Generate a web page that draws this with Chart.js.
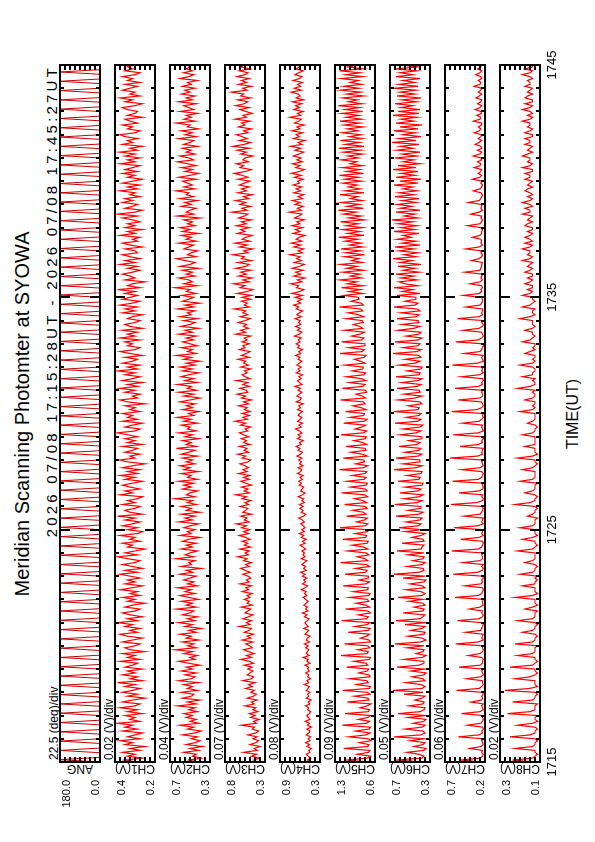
<!DOCTYPE html>
<html>
<head>
<meta charset="utf-8">
<script src="https://cdn.jsdelivr.net/npm/chart.js@4.4.1/dist/chart.umd.min.js"></script>
<style>
html, body { margin: 0; padding: 0; background: #fff; }
body { width: 595px; height: 842px; overflow: hidden; position: relative; font-family: "Liberation Sans", Arial, sans-serif; }
#sheet { position: absolute; left: 0; top: 0; width: 842px; height: 595px; transform-origin: 0 0; transform: translate(0px, 842px) rotate(-90deg); }
#sheet .txt { position: absolute; white-space: nowrap; line-height: 1; color: #000; }
#sheet canvas { position: absolute; left: 0; }
</style>
</head>
<body>
<div id="sheet">
  <div class="txt" style="left:428px;top:12px;font-size:20px;transform:translateX(-50%)">Meridian Scanning Photomter at SYOWA</div>
  <div class="txt" style="right:65px;top:44px;font-size:15px;letter-spacing:3.2px">2026 07/08 17:15:28UT - 2026 07/08 17:45:27UT</div>
  <div class="txt" style="left:428px;top:565px;font-size:16px;transform:translateX(-50%)">TIME(UT)</div>
</div>
<script>
// panel names, scales (8 divisions each)
const channelNames = ['ANG', 'CH1(V)', 'CH2(V)', 'CH3(V)', 'CH4(V)', 'CH5(V)', 'CH6(V)', 'CH7(V)', 'CH8(V)'];
const divLabels = ['22.5 (deg)/div', '0.02 (V)/div', '0.04 (V)/div', '0.07 (V)/div', '0.08 (V)/div',
                   '0.09 (V)/div', '0.05 (V)/div', '0.06 (V)/div', '0.02 (V)/div'];
const axisMin = [0, 0.22, 0.34, 0.28, 0.28, 0.58, 0.30, 0.22, 0.14];
const axisDiv = [22.5, 0.02, 0.04, 0.07, 0.08, 0.09, 0.05, 0.06, 0.02];
const hiLabels = ['180.0', '0.4', '0.7', '0.8', '0.9', '1.3', '0.7', '0.7', '0.3'];
const loLabels = ['0.0', '0.2', '0.3', '0.3', '0.3', '0.6', '0.3', '0.2', '0.1'];
const lineColors = ['#cc0000', '#ff0000', '#ff0000', '#ff0000', '#ff0000', '#ff0000', '#ff0000', '#ff0000', '#ff0000'];

// time axis, minutes after 17:15
const timeTicks = [0, 10, 20, 30];
const timeLabels = ['1715', '1725', '1735', '1745'];

// scan angle (deg), sampled every 6 s
const angStep = 0.1;
const ang = [
  0,180,0,0,0,180,0,0,0,180,0,0,0,180,0,0,0,180,0,0,
  0,180,0,0,0,180,0,0,0,180,0,0,0,180,0,0,0,180,0,0,
  0,180,0,0,0,180,0,0,0,180,0,0,0,180,0,0,0,180,0,0,
  0,180,0,0,0,180,0,0,0,180,0,0,0,180,0,0,0,180,0,0,
  0,180,0,0,0,180,0,0,0,180,0,0,0,180,0,0,0,180,0,0,
  0,180,0,0,0,180,0,0,0,180,0,0,0,180,0,0,0,180,0,0,
  0,180,0,0,0,180,0,0,0,180,0,0,0,180,0,0,0,180,0,0,
  0,180,0,0,0,180,0,0,0,180,0,0,0,180,0,0,0,180,0,0,
  0,180,0,0,0,180,0,0,0,180,0,0,0,180,0,0,0,180,0,0,
  0,180,0,0,0,180,0,0,0,180,0,0,0,180,0,0,0,180,0,0,
  0,180,0,0,0,180,0,0,0,180,0,0,0,180,0,0,0,180,0,0,
  0,180,0,0,0,180,0,0,0,180,0,0,0,180,0,0,0,180,0,0,
  0,180,0,0,0,180,0,0,0,180,0,0,0,180,0,0,0,180,0,0,
  0,180,0,0,0,180,0,0,0,180,0,0,0,180,0,0,0,180,0,0,
  0,180,0,0,0,180,0,0,0,180,0,0,0,180,0,0,0,180,0,0,
  0];

// channel samples (V), every 5 s, one row per minute
const chStep = 1 / 12;
const ch1 = [
  0.29,0.34,0.27,0.33,0.30,0.35,0.28,0.32,0.26,0.34,0.31,0.36,
  0.28,0.33,0.30,0.27,0.35,0.29,0.34,0.31,0.37,0.28,0.32,0.30,
  0.34,0.27,0.33,0.29,0.36,0.30,0.28,0.35,0.31,0.26,0.33,0.29,
  0.35,0.31,0.28,0.34,0.30,0.37,0.27,0.32,0.29,0.35,0.30,0.33,
  0.27,0.34,0.31,0.29,0.36,0.28,0.33,0.30,0.35,0.26,0.32,0.34,
  0.30,0.28,0.35,0.31,0.27,0.33,0.36,0.29,0.32,0.28,0.34,0.31,
  0.37,0.29,0.33,0.27,0.32,0.35,0.30,0.28,0.34,0.31,0.26,0.33,
  0.30,0.35,0.28,0.32,0.29,0.36,0.31,0.27,0.34,0.30,0.33,0.28,
  0.32,0.36,0.29,0.34,0.27,0.31,0.35,0.30,0.28,0.33,0.37,0.29,
  0.34,0.30,0.26,0.33,0.31,0.35,0.28,0.32,0.30,0.36,0.29,0.27,
  0.33,0.29,0.35,0.31,0.28,0.34,0.30,0.37,0.27,0.32,0.34,0.30,
  0.28,0.35,0.30,0.33,0.29,0.27,0.36,0.31,0.34,0.28,0.32,0.35,
  0.31,0.27,0.34,0.30,0.36,0.29,0.33,0.28,0.35,0.31,0.26,0.33,
  0.36,0.30,0.32,0.28,0.34,0.31,0.29,0.35,0.27,0.33,0.30,0.34,
  0.29,0.33,0.37,0.30,0.28,0.34,0.31,0.27,0.35,0.29,0.33,0.31,
  0.35,0.28,0.32,0.30,0.34,0.26,0.33,0.36,0.29,0.31,0.28,0.34,
  0.30,0.36,0.29,0.33,0.27,0.35,0.31,0.28,0.34,0.30,0.37,0.29,
  0.33,0.28,0.35,0.31,0.29,0.34,0.27,0.32,0.36,0.30,0.28,0.33,
  0.31,0.34,0.28,0.36,0.30,0.33,0.29,0.35,0.27,0.32,0.34,0.30,
  0.28,0.33,0.31,0.27,0.35,0.30,0.34,0.29,0.36,0.31,0.28,0.35,
  0.32,0.29,0.34,0.30,0.37,0.28,0.33,0.31,0.26,0.34,0.30,0.32,
  0.35,0.31,0.28,0.33,0.29,0.36,0.30,0.34,0.28,0.32,0.35,0.29,
  0.30,0.34,0.27,0.32,0.35,0.29,0.31,0.28,0.36,0.30,0.33,0.27,
  0.34,0.30,0.33,0.28,0.31,0.35,0.29,0.37,0.30,0.27,0.34,0.31,
  0.29,0.35,0.31,0.34,0.28,0.32,0.30,0.36,0.29,0.33,0.28,0.35,
  0.31,0.27,0.33,0.30,0.35,0.29,0.34,0.31,0.28,0.36,0.30,0.33,
  0.28,0.34,0.30,0.36,0.29,0.32,0.27,0.35,0.31,0.33,0.29,0.34,
  0.36,0.30,0.28,0.33,0.31,0.35,0.29,0.32,0.34,0.27,0.33,0.30,
  0.29,0.33,0.35,0.30,0.27,0.34,0.31,0.36,0.28,0.32,0.30,0.35,
  0.32,0.29,0.34,0.28,0.33,0.31,0.35,0.30,0.28,0.34,0.31,0.33,
  0.30];
const ch2 = [
  0.44,0.51,0.41,0.48,0.45,0.55,0.43,0.50,0.40,0.53,0.46,0.42,
  0.49,0.44,0.56,0.46,0.41,0.52,0.47,0.58,0.43,0.50,0.45,0.53,
  0.48,0.55,0.44,0.51,0.46,0.60,0.45,0.52,0.42,0.56,0.49,0.47,
  0.57,0.44,0.52,0.48,0.55,0.43,0.59,0.49,0.46,0.54,0.45,0.57,
  0.48,0.53,0.42,0.51,0.59,0.46,0.50,0.44,0.55,0.48,0.62,0.45,
  0.52,0.47,0.56,0.43,0.53,0.49,0.58,0.45,0.51,0.41,0.54,0.48,
  0.59,0.46,0.52,0.44,0.56,0.50,0.47,0.61,0.45,0.53,0.48,0.57,
  0.43,0.51,0.58,0.46,0.54,0.49,0.60,0.44,0.52,0.47,0.55,0.50,
  0.45,0.58,0.48,0.53,0.41,0.57,0.49,0.51,0.46,0.61,0.47,0.54,
  0.50,0.44,0.57,0.48,0.53,0.45,0.56,0.51,0.42,0.58,0.49,0.52,
  0.46,0.55,0.50,0.43,0.59,0.48,0.54,0.46,0.57,0.42,0.53,0.49,
  0.57,0.45,0.52,0.48,0.62,0.46,0.53,0.50,0.44,0.56,0.49,0.55,
  0.47,0.59,0.44,0.52,0.49,0.57,0.43,0.55,0.50,0.58,0.46,0.53,
  0.48,0.56,0.44,0.57,0.51,0.46,0.61,0.45,0.53,0.49,0.56,0.43,
  0.54,0.48,0.59,0.45,0.52,0.50,0.57,0.44,0.55,0.49,0.60,0.47,
  0.51,0.43,0.56,0.48,0.53,0.46,0.58,0.50,0.42,0.55,0.47,0.59,
  0.45,0.52,0.49,0.60,0.44,0.54,0.47,0.57,0.51,0.43,0.56,0.48,
  0.58,0.46,0.53,0.42,0.55,0.49,0.61,0.45,0.52,0.48,0.57,0.44,
  0.50,0.56,0.47,0.53,0.45,0.59,0.48,0.54,0.43,0.57,0.50,0.46,
  0.55,0.44,0.58,0.49,0.52,0.46,0.60,0.47,0.54,0.42,0.56,0.51,
  0.47,0.57,0.45,0.53,0.50,0.62,0.44,0.55,0.48,0.51,0.59,0.46,
  0.53,0.48,0.56,0.43,0.58,0.50,0.46,0.54,0.61,0.45,0.52,0.49,
  0.44,0.55,0.51,0.47,0.59,0.45,0.53,0.49,0.57,0.43,0.56,0.50,
  0.58,0.46,0.52,0.48,0.55,0.42,0.60,0.47,0.53,0.50,0.45,0.57,
  0.49,0.54,0.44,0.58,0.47,0.53,0.51,0.61,0.46,0.55,0.48,0.52,
  0.56,0.45,0.59,0.50,0.43,0.54,0.48,0.57,0.45,0.52,0.60,0.47,
  0.51,0.58,0.46,0.53,0.49,0.56,0.44,0.55,0.50,0.47,0.59,0.45,
  0.54,0.48,0.57,0.43,0.52,0.50,0.61,0.46,0.55,0.49,0.53,0.44,
  0.58,0.47,0.51,0.55,0.45,0.59,0.48,0.53,0.46,0.57,0.50,0.54,
  0.46,0.56,0.49,0.52,0.44,0.58,0.51,0.47,0.55,0.48,0.53,0.50,
  0.52];
const ch3 = [
  0.38,0.44,0.36,0.47,0.40,0.58,0.39,0.43,0.35,0.49,0.41,0.37,
  0.45,0.39,0.52,0.41,0.37,0.46,0.43,0.61,0.40,0.44,0.36,0.48,
  0.42,0.50,0.38,0.45,0.41,0.56,0.43,0.47,0.39,0.53,0.44,0.40,
  0.48,0.43,0.55,0.46,0.51,0.42,0.59,0.47,0.44,0.53,0.49,0.45,
  0.52,0.46,0.57,0.44,0.50,0.62,0.47,0.54,0.43,0.51,0.58,0.46,
  0.49,0.55,0.45,0.60,0.48,0.53,0.44,0.57,0.50,0.47,0.64,0.49,
  0.54,0.47,0.59,0.51,0.45,0.56,0.52,0.48,0.61,0.46,0.53,0.50,
  0.57,0.49,0.53,0.46,0.60,0.51,0.55,0.47,0.63,0.50,0.54,0.48,
  0.52,0.59,0.49,0.56,0.62,0.50,0.55,0.47,0.58,0.53,0.66,0.51,
  0.56,0.50,0.63,0.48,0.57,0.52,0.60,0.49,0.55,0.64,0.51,0.58,
  0.49,0.61,0.54,0.68,0.50,0.57,0.53,0.62,0.47,0.59,0.55,0.52,
  0.63,0.51,0.56,0.48,0.60,0.54,0.69,0.50,0.57,0.52,0.61,0.47,
  0.55,0.62,0.50,0.58,0.49,0.65,0.53,0.59,0.51,0.56,0.63,0.52,
  0.48,0.60,0.55,0.66,0.51,0.57,0.53,0.64,0.49,0.58,0.54,0.61,
  0.51,0.58,0.64,0.52,0.56,0.48,0.62,0.55,0.70,0.53,0.59,0.50,
  0.60,0.49,0.57,0.53,0.65,0.51,0.58,0.47,0.61,0.55,0.67,0.52,
  0.54,0.63,0.50,0.59,0.52,0.68,0.49,0.56,0.60,0.53,0.57,0.48,
  0.62,0.51,0.58,0.55,0.66,0.50,0.61,0.54,0.49,0.64,0.56,0.59,
  0.50,0.60,0.53,0.57,0.48,0.69,0.55,0.62,0.51,0.58,0.54,0.65,
  0.56,0.49,0.63,0.52,0.59,0.55,0.71,0.50,0.57,0.53,0.61,0.48,
  0.60,0.47,0.67,0.53,0.45,0.63,0.56,0.72,0.50,0.59,0.46,0.65,
  0.54,0.62,0.48,0.69,0.55,0.50,0.66,0.47,0.61,0.57,0.73,0.52,
  0.58,0.45,0.64,0.53,0.70,0.49,0.60,0.55,0.46,0.67,0.56,0.62,
  0.50,0.68,0.54,0.61,0.47,0.65,0.57,0.52,0.74,0.53,0.60,0.48,
  0.63,0.55,0.69,0.51,0.58,0.46,0.66,0.54,0.61,0.50,0.64,0.57,
  0.49,0.66,0.52,0.60,0.71,0.55,0.47,0.63,0.58,0.68,0.51,0.59,
  0.56,0.45,0.62,0.54,0.67,0.50,0.73,0.57,0.48,0.64,0.53,0.60,
  0.68,0.52,0.58,0.47,0.65,0.56,0.61,0.49,0.70,0.54,0.59,0.46,
  0.55,0.63,0.50,0.69,0.57,0.52,0.66,0.48,0.62,0.58,0.75,0.53,
  0.59,0.47,0.65,0.54,0.61,0.50,0.67,0.56,0.52,0.64,0.49,0.62,
  0.57];
const ch4 = [
  0.45,0.48,0.43,0.47,0.50,0.44,0.46,0.42,0.49,0.45,0.51,0.44,
  0.47,0.43,0.50,0.46,0.44,0.49,0.42,0.48,0.45,0.52,0.44,0.47,
  0.49,0.45,0.43,0.48,0.46,0.51,0.44,0.47,0.42,0.50,0.46,0.48,
  0.44,0.50,0.47,0.45,0.53,0.46,0.49,0.43,0.48,0.46,0.51,0.45,
  0.48,0.46,0.52,0.44,0.49,0.47,0.55,0.45,0.50,0.48,0.46,0.51,
  0.47,0.53,0.45,0.50,0.48,0.44,0.52,0.49,0.46,0.54,0.47,0.50,
  0.52,0.48,0.46,0.53,0.49,0.56,0.47,0.51,0.48,0.54,0.50,0.47,
  0.51,0.55,0.49,0.53,0.50,0.58,0.52,0.48,0.56,0.51,0.54,0.49,
  0.56,0.52,0.59,0.50,0.54,0.51,0.57,0.53,0.49,0.58,0.52,0.55,
  0.53,0.57,0.51,0.55,0.60,0.52,0.56,0.50,0.58,0.54,0.61,0.53,
  0.57,0.52,0.55,0.59,0.53,0.56,0.62,0.54,0.51,0.58,0.55,0.60,
  0.55,0.61,0.53,0.57,0.54,0.63,0.56,0.52,0.59,0.57,0.54,0.61,
  0.58,0.62,0.56,0.60,0.55,0.64,0.59,0.57,0.63,0.55,0.61,0.58,
  0.62,0.57,0.65,0.59,0.56,0.63,0.60,0.66,0.58,0.61,0.55,0.64,
  0.59,0.63,0.57,0.61,0.67,0.58,0.62,0.56,0.64,0.60,0.57,0.63,
  0.61,0.56,0.64,0.59,0.62,0.55,0.66,0.60,0.58,0.65,0.61,0.57,
  0.63,0.59,0.68,0.57,0.61,0.64,0.58,0.62,0.56,0.66,0.60,0.63,
  0.58,0.65,0.61,0.57,0.63,0.60,0.67,0.59,0.62,0.56,0.64,0.61,
  0.66,0.60,0.63,0.58,0.69,0.61,0.57,0.64,0.60,0.67,0.59,0.62,
  0.60,0.68,0.58,0.65,0.61,0.56,0.66,0.62,0.70,0.59,0.64,0.57,
  0.68,0.56,0.73,0.60,0.54,0.66,0.62,0.75,0.57,0.64,0.52,0.70,
  0.59,0.67,0.55,0.72,0.61,0.53,0.69,0.58,0.65,0.60,0.76,0.56,
  0.63,0.54,0.70,0.59,0.74,0.57,0.66,0.61,0.52,0.71,0.60,0.67,
  0.56,0.73,0.60,0.65,0.53,0.69,0.62,0.57,0.77,0.58,0.64,0.55,
  0.68,0.60,0.72,0.56,0.63,0.54,0.70,0.59,0.66,0.57,0.71,0.61,
  0.64,0.55,0.69,0.58,0.74,0.61,0.53,0.67,0.60,0.72,0.56,0.65,
  0.58,0.71,0.62,0.54,0.68,0.59,0.75,0.57,0.63,0.52,0.70,0.61,
  0.66,0.56,0.73,0.60,0.65,0.53,0.69,0.62,0.58,0.76,0.59,0.64,
  0.55,0.70,0.61,0.67,0.57,0.72,0.54,0.66,0.60,0.63,0.74,0.58,
  0.69,0.59,0.64,0.56,0.71,0.61,0.57,0.68,0.62,0.55,0.67,0.60,
  0.63];
const ch5 = [
  0.68,1.10,0.72,0.66,0.90,0.70,0.67,1.14,0.71,0.69,0.86,0.65,
  0.70,1.05,0.74,0.67,0.93,0.69,0.66,1.17,0.73,0.68,0.88,0.71,
  0.66,1.12,0.70,0.68,0.85,0.72,0.65,1.08,0.69,0.71,0.95,0.67,
  0.72,1.16,0.68,0.66,0.91,0.70,0.73,1.03,0.67,0.69,0.87,0.72,
  0.69,1.09,0.71,0.74,0.96,0.68,0.66,1.19,0.72,0.70,0.89,0.67,
  0.71,1.13,0.66,0.69,0.84,0.73,0.68,1.06,0.70,0.67,0.94,0.72,
  0.67,1.18,0.73,0.70,0.88,0.66,0.71,1.11,0.68,0.74,0.92,0.69,
  0.72,1.04,0.69,0.67,0.97,0.71,0.70,1.15,0.74,0.68,0.86,0.70,
  0.70,1.12,0.75,0.72,0.93,0.68,0.73,1.20,0.71,0.76,0.90,0.69,
  0.74,1.07,0.71,0.78,0.99,0.72,0.70,1.16,0.75,0.73,0.94,0.71,
  0.73,1.21,0.76,0.71,0.91,0.77,0.72,1.09,0.74,0.79,0.98,0.72,
  0.76,1.13,0.73,0.80,0.95,0.71,0.77,1.18,0.72,0.75,1.02,0.74,
  0.72,1.08,0.78,0.74,0.99,0.76,0.73,1.22,0.79,0.71,0.93,0.77,
  0.78,1.15,0.72,0.81,1.01,0.74,0.76,1.10,0.73,0.80,0.96,0.75,
  0.74,1.19,0.79,0.73,0.94,0.82,0.75,1.14,0.77,0.72,1.03,0.78,
  0.77,1.11,0.74,0.83,0.98,0.76,0.79,1.20,0.75,0.81,0.92,0.73,
  0.75,1.17,0.80,0.76,1.04,0.74,0.82,1.09,0.78,0.75,0.99,0.80,
  0.79,1.12,0.76,0.84,0.95,0.78,0.74,1.21,0.81,0.77,1.05,0.76,
  0.76,1.18,0.82,0.78,1.00,0.85,0.77,1.13,0.80,0.86,0.97,0.79,
  0.81,1.10,0.78,0.88,1.06,0.80,0.84,1.22,0.79,0.83,1.01,0.87,
  0.88,1.14,0.80,1.05,0.84,1.18,0.79,1.08,0.91,1.21,0.82,1.02,
  0.85,1.16,0.78,1.09,0.90,1.20,0.81,1.00,0.87,1.13,0.77,1.11,
  0.84,1.19,0.80,1.04,0.83,1.12,0.89,1.23,0.78,1.07,0.85,1.17,
  0.80,1.10,0.88,1.20,0.77,1.05,0.83,1.15,0.92,1.24,0.79,1.08,
  0.86,1.18,0.81,1.02,0.89,1.21,0.78,1.12,0.84,1.06,0.90,1.16,
  0.82,1.13,0.87,1.22,0.79,1.09,0.85,1.17,0.80,1.03,0.91,1.19,
  0.88,1.07,0.80,1.15,0.84,1.23,0.78,1.11,0.86,1.20,0.81,1.04,
  0.83,1.17,0.89,1.08,0.79,1.14,0.85,1.21,0.82,1.10,0.87,1.18,
  0.80,1.12,0.86,1.24,0.81,1.06,0.90,1.16,0.78,1.09,0.84,1.20,
  0.87,1.14,0.82,1.03,0.88,1.19,0.80,1.11,0.85,1.22,0.79,1.07,
  0.84];
const ch6 = [
  0.35,0.64,0.38,0.36,0.41,0.53,0.36,0.34,0.46,0.37,0.35,0.50,
  0.36,0.66,0.39,0.35,0.37,0.55,0.38,0.35,0.47,0.36,0.34,0.52,
  0.34,0.62,0.40,0.36,0.35,0.51,0.37,0.36,0.45,0.38,0.35,0.56,
  0.37,0.67,0.38,0.35,0.39,0.54,0.35,0.37,0.48,0.36,0.34,0.49,
  0.35,0.63,0.41,0.36,0.36,0.56,0.38,0.34,0.44,0.37,0.36,0.53,
  0.36,0.65,0.39,0.34,0.38,0.52,0.36,0.35,0.49,0.38,0.35,0.55,
  0.34,0.64,0.40,0.37,0.35,0.57,0.37,0.36,0.46,0.35,0.37,0.51,
  0.37,0.62,0.38,0.35,0.39,0.54,0.35,0.38,0.50,0.36,0.34,0.57,
  0.35,0.66,0.41,0.36,0.37,0.53,0.38,0.35,0.47,0.37,0.36,0.52,
  0.36,0.63,0.39,0.38,0.36,0.58,0.36,0.37,0.48,0.39,0.35,0.55,
  0.38,0.61,0.42,0.39,0.54,0.40,0.38,0.64,0.41,0.37,0.52,0.39,
  0.39,0.65,0.43,0.38,0.56,0.41,0.37,0.60,0.42,0.39,0.55,0.38,
  0.37,0.62,0.41,0.40,0.53,0.39,0.38,0.66,0.44,0.38,0.57,0.40,
  0.40,0.64,0.42,0.38,0.55,0.41,0.39,0.61,0.43,0.40,0.51,0.38,
  0.38,0.60,0.44,0.39,0.57,0.40,0.37,0.65,0.42,0.39,0.54,0.41,
  0.39,0.66,0.42,0.41,0.52,0.38,0.40,0.62,0.45,0.38,0.56,0.40,
  0.41,0.63,0.43,0.39,0.58,0.42,0.38,0.64,0.41,0.40,0.53,0.39,
  0.38,0.61,0.45,0.40,0.55,0.39,0.41,0.67,0.43,0.39,0.57,0.42,
  0.40,0.65,0.42,0.38,0.54,0.41,0.39,0.62,0.46,0.40,0.58,0.41,
  0.42,0.63,0.44,0.41,0.59,0.40,0.43,0.66,0.45,0.42,0.55,0.44,
  0.44,0.63,0.40,0.58,0.47,0.66,0.42,0.55,0.61,0.43,0.59,0.46,
  0.64,0.41,0.57,0.45,0.62,0.39,0.60,0.48,0.67,0.44,0.56,0.42,
  0.61,0.46,0.65,0.40,0.58,0.44,0.63,0.49,0.57,0.41,0.66,0.45,
  0.59,0.43,0.62,0.47,0.68,0.42,0.56,0.45,0.64,0.40,0.60,0.48,
  0.63,0.44,0.58,0.41,0.65,0.46,0.61,0.43,0.57,0.47,0.66,0.42,
  0.60,0.39,0.64,0.45,0.59,0.42,0.67,0.44,0.62,0.40,0.57,0.46,
  0.65,0.43,0.58,0.40,0.63,0.47,0.60,0.41,0.68,0.44,0.61,0.39,
  0.57,0.45,0.66,0.42,0.60,0.38,0.64,0.46,0.59,0.43,0.67,0.41,
  0.62,0.40,0.59,0.47,0.65,0.43,0.58,0.39,0.63,0.45,0.60,0.44,
  0.66,0.42,0.61,0.45,0.57,0.40,0.64,0.47,0.60,0.43,0.65,0.41,
  0.60];
const ch7 = [
  0.25,0.51,0.28,0.25,0.24,0.26,0.25,0.40,0.27,0.24,0.25,0.26,
  0.24,0.54,0.29,0.25,0.26,0.24,0.25,0.43,0.27,0.25,0.24,0.25,
  0.25,0.50,0.28,0.24,0.25,0.26,0.24,0.39,0.26,0.25,0.26,0.24,
  0.25,0.56,0.29,0.26,0.24,0.25,0.25,0.44,0.27,0.24,0.25,0.26,
  0.24,0.53,0.28,0.25,0.25,0.24,0.26,0.42,0.28,0.25,0.24,0.25,
  0.25,0.57,0.30,0.24,0.26,0.25,0.24,0.45,0.27,0.26,0.25,0.24,
  0.26,0.55,0.29,0.25,0.24,0.26,0.25,0.41,0.28,0.24,0.25,0.25,
  0.24,0.58,0.30,0.26,0.25,0.24,0.25,0.46,0.27,0.25,0.26,0.24,
  0.25,0.60,0.31,0.25,0.24,0.26,0.24,0.48,0.28,0.25,0.25,0.26,
  0.24,0.62,0.30,0.26,0.25,0.24,0.25,0.51,0.29,0.24,0.26,0.25,
  0.25,0.59,0.31,0.24,0.26,0.25,0.24,0.47,0.28,0.26,0.25,0.24,
  0.26,0.63,0.32,0.25,0.24,0.26,0.25,0.53,0.29,0.25,0.24,0.25,
  0.24,0.61,0.30,0.26,0.25,0.24,0.26,0.50,0.28,0.24,0.25,0.26,
  0.25,0.64,0.31,0.25,0.26,0.25,0.24,0.52,0.30,0.25,0.26,0.24,
  0.26,0.60,0.30,0.24,0.25,0.26,0.25,0.49,0.29,0.26,0.24,0.25,
  0.24,0.62,0.32,0.26,0.24,0.25,0.26,0.54,0.28,0.25,0.25,0.26,
  0.25,0.58,0.30,0.25,0.26,0.24,0.25,0.50,0.29,0.24,0.26,0.25,
  0.26,0.61,0.31,0.24,0.25,0.26,0.24,0.47,0.28,0.26,0.25,0.24,
  0.25,0.57,0.30,0.26,0.24,0.25,0.26,0.48,0.29,0.25,0.24,0.26,
  0.24,0.55,0.29,0.25,0.26,0.25,0.25,0.45,0.28,0.26,0.25,0.25,
  0.26,0.48,0.29,0.26,0.27,0.25,0.26,0.40,0.28,0.25,0.27,0.26,
  0.25,0.46,0.28,0.27,0.26,0.26,0.25,0.38,0.29,0.26,0.25,0.27,
  0.26,0.45,0.29,0.25,0.27,0.26,0.27,0.37,0.28,0.26,0.26,0.25,
  0.27,0.43,0.28,0.26,0.25,0.27,0.26,0.39,0.29,0.25,0.27,0.26,
  0.26,0.42,0.29,0.27,0.26,0.25,0.27,0.36,0.28,0.26,0.25,0.27,
  0.25,0.37,0.28,0.26,0.30,0.27,0.26,0.35,0.28,0.27,0.31,0.26,
  0.27,0.36,0.28,0.26,0.31,0.26,0.27,0.34,0.29,0.26,0.30,0.27,
  0.26,0.35,0.29,0.27,0.30,0.26,0.26,0.36,0.28,0.27,0.32,0.26,
  0.27,0.34,0.28,0.26,0.31,0.27,0.26,0.33,0.29,0.26,0.30,0.27,
  0.26,0.35,0.28,0.27,0.30,0.26,0.27,0.33,0.28,0.26,0.31,0.27,
  0.27];
const ch8 = [
  0.16,0.25,0.17,0.16,0.15,0.16,0.16,0.24,0.17,0.16,0.16,0.15,
  0.16,0.26,0.18,0.16,0.16,0.15,0.16,0.23,0.17,0.15,0.16,0.16,
  0.15,0.27,0.18,0.16,0.16,0.16,0.15,0.25,0.17,0.16,0.16,0.15,
  0.16,0.28,0.18,0.15,0.16,0.16,0.16,0.24,0.18,0.16,0.15,0.16,
  0.16,0.26,0.17,0.16,0.15,0.16,0.16,0.23,0.17,0.16,0.16,0.16,
  0.15,0.24,0.17,0.16,0.16,0.15,0.16,0.21,0.17,0.16,0.16,0.15,
  0.16,0.23,0.17,0.16,0.16,0.16,0.15,0.20,0.17,0.15,0.16,0.16,
  0.16,0.24,0.17,0.15,0.16,0.16,0.16,0.21,0.16,0.16,0.15,0.16,
  0.15,0.22,0.17,0.16,0.16,0.15,0.16,0.20,0.17,0.16,0.16,0.16,
  0.16,0.23,0.17,0.16,0.15,0.16,0.16,0.21,0.17,0.15,0.16,0.16,
  0.16,0.22,0.17,0.16,0.16,0.16,0.15,0.19,0.17,0.16,0.16,0.15,
  0.16,0.24,0.18,0.16,0.16,0.15,0.16,0.20,0.17,0.16,0.16,0.16,
  0.15,0.22,0.17,0.16,0.16,0.16,0.16,0.21,0.17,0.16,0.15,0.16,
  0.16,0.23,0.17,0.15,0.16,0.16,0.16,0.20,0.16,0.16,0.16,0.16,
  0.16,0.21,0.17,0.16,0.16,0.15,0.16,0.19,0.17,0.16,0.16,0.16,
  0.16,0.22,0.17,0.16,0.17,0.16,0.16,0.20,0.17,0.16,0.16,0.17,
  0.16,0.23,0.18,0.16,0.16,0.17,0.16,0.21,0.17,0.17,0.16,0.16,
  0.17,0.22,0.17,0.16,0.17,0.16,0.16,0.20,0.18,0.16,0.17,0.16,
  0.16,0.21,0.18,0.17,0.16,0.17,0.17,0.20,0.17,0.16,0.17,0.17,
  0.17,0.22,0.18,0.16,0.17,0.17,0.16,0.21,0.18,0.17,0.16,0.17,
  0.17,0.21,0.18,0.17,0.19,0.17,0.17,0.20,0.18,0.17,0.19,0.17,
  0.17,0.20,0.18,0.17,0.19,0.18,0.17,0.21,0.18,0.17,0.19,0.18,
  0.18,0.21,0.18,0.17,0.20,0.17,0.18,0.20,0.18,0.17,0.19,0.17,
  0.17,0.20,0.19,0.17,0.19,0.18,0.17,0.21,0.18,0.18,0.20,0.17,
  0.18,0.21,0.18,0.17,0.19,0.17,0.18,0.20,0.19,0.17,0.19,0.18,
  0.17,0.20,0.18,0.18,0.20,0.17,0.17,0.21,0.18,0.17,0.19,0.18,
  0.18,0.21,0.19,0.17,0.19,0.18,0.17,0.20,0.18,0.18,0.20,0.17,
  0.17,0.20,0.18,0.17,0.19,0.18,0.18,0.21,0.18,0.17,0.19,0.17,
  0.18,0.21,0.18,0.17,0.20,0.17,0.17,0.20,0.19,0.17,0.19,0.18,
  0.17,0.20,0.18,0.18,0.19,0.17,0.18,0.21,0.18,0.17,0.20,0.17,
  0.17];

const series = [ang, ch1, ch2, ch3, ch4, ch5, ch6, ch7, ch8];
const steps = [angStep, chStep, chStep, chStep, chStep, chStep, chStep, chStep, chStep];

const FONT = '"Liberation Sans", Arial, sans-serif';
Chart.defaults.font.family = FONT;

// frame, inward ticks and labels, placed through the chart's scales
const framePlugin = {
  id: 'frame',
  afterDatasetsDraw(chart, args, o) {
    const { ctx, chartArea: a, scales: { x, y } } = chart;
    ctx.save();
    ctx.strokeStyle = '#000';
    ctx.lineWidth = 2;
    ctx.beginPath();
    for (let m = 1; m < 30; m++) {
      const px = Math.round(x.getPixelForValue(m));
      const len = m % 10 === 0 ? 10 : 4;
      ctx.moveTo(px, a.top); ctx.lineTo(px, a.top + len);
      ctx.moveTo(px, a.bottom); ctx.lineTo(px, a.bottom - len);
    }
    for (let d = 1; d < 8; d++) {
      const py = Math.round(y.getPixelForValue(o.lo + d * o.div));
      ctx.moveTo(a.left, py); ctx.lineTo(a.left + 5, py);
      ctx.moveTo(a.right, py); ctx.lineTo(a.right - 5, py);
    }
    ctx.stroke();
    ctx.strokeRect(a.left, a.top, a.right - a.left, a.bottom - a.top);

    ctx.fillStyle = '#000';
    ctx.font = '11px ' + FONT;
    ctx.textAlign = 'right';
    ctx.textBaseline = 'alphabetic';
    ctx.fillText(hiLabels[o.index], 62, a.top + 10);
    ctx.fillText(loLabels[o.index], 62, a.bottom - 1);

    if (o.last) {
      ctx.font = '13px ' + FONT;
      ctx.textAlign = 'center';
      timeTicks.forEach((t, k) => {
        ctx.fillText(timeLabels[k], x.getPixelForValue(t), a.bottom + 16);
      });
    }
    ctx.restore();
  }
};

const sheet = document.getElementById('sheet');

series.forEach((vals, i) => {
  const top = 60 + 55 * i;
  const last = i === series.length - 1;
  const lo = axisMin[i];
  const hi = axisMin[i] + 8 * axisDiv[i];

  const lab = document.createElement('div');
  lab.className = 'txt';
  lab.style.cssText = 'left:82px;top:' + (top - 12) + 'px;font-size:12px';
  lab.textContent = divLabels[i];
  sheet.appendChild(lab);

  const name = document.createElement('div');
  name.className = 'txt';
  name.style.cssText = 'left:73px;top:' + (top + 20) + 'px;font-size:12px;transform:translate(-50%,-50%) rotate(-90deg)';
  name.textContent = channelNames[i];
  sheet.appendChild(name);

  const cv = document.createElement('canvas');
  cv.width = 842;
  cv.height = last ? 100 : 60;
  cv.style.top = (top - 10) + 'px';
  sheet.appendChild(cv);

  new Chart(cv, {
    type: 'line',
    data: {
      datasets: [{
        data: vals.map((v, k) => ({ x: k * steps[i], y: v })),
        borderColor: lineColors[i],
        borderWidth: i === 0 ? 1 : 1.2,
        pointRadius: 0,
        tension: 0
      }]
    },
    options: {
      responsive: false,
      animation: false,
      events: [],
      layout: { padding: { left: 80, right: 65, top: 10, bottom: last ? 50 : 10 } },
      plugins: {
        legend: { display: false },
        tooltip: { enabled: false },
        frame: { index: i, lo: lo, div: axisDiv[i], last: last }
      },
      scales: {
        x: { type: 'linear', min: 0, max: 30, display: false },
        y: { min: lo, max: hi, display: false }
      }
    },
    plugins: [framePlugin]
  });
});
</script>
</body>
</html>
